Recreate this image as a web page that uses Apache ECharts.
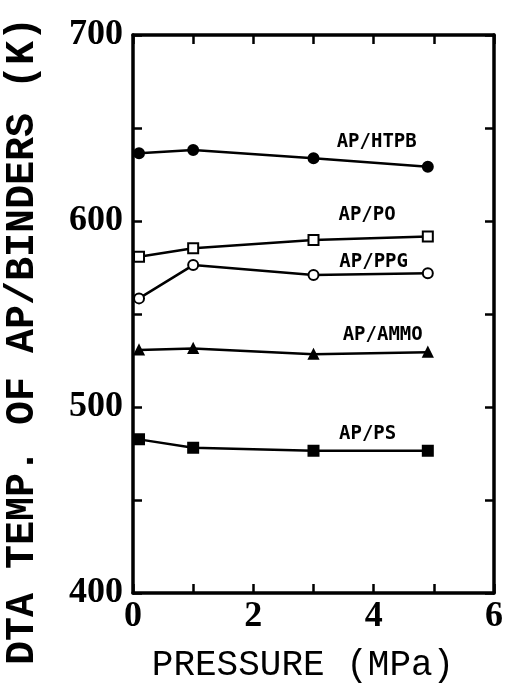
<!DOCTYPE html>
<html>
<head>
<meta charset="UTF-8">
<script src="https://cdn.jsdelivr.net/npm/echarts@6/dist/echarts.min.js"></script>
<style>
html, body { margin: 0; padding: 0; background: #fff; }
#main { width: 506px; height: 695px; }
</style>
</head>
<body>
<div id="main"></div>
<script>
// pressure (MPa) and DTA temperature (K) of each binder
var pressure = [0.1, 1, 3, 4.9];
var htpb = [636.4, 638.2, 633.7, 629.2];
var po   = [580.8, 585.3, 589.8, 591.6];
var ppg  = [558.4, 576.3, 571.0, 571.9];
var ammo = [530.6, 531.5, 528.3, 529.4];
var ps   = [482.6, 478.1, 476.5, 476.5];
var names = ['AP/HTPB', 'AP/PO', 'AP/PPG', 'AP/AMMO', 'AP/PS'];
// where the curve labels sit, in data units
var labelAt = [[4.05, 642.5], [3.89, 603.2], [4.0, 578.0], [4.15, 538.7], [3.9, 485.5]];
var xTicks = [0, 2, 4, 6];
var yTicks = [400, 500, 600, 700];

var chart = echarts.init(document.getElementById('main'));

function pairs(ys) {
    return pressure.map(function (x, i) { return [x, ys[i]]; });
}

var symbols = [
    { symbol: 'circle', size: 10, fill: '#000' },
    { symbol: 'rect', size: 10, fill: '#fff' },
    { symbol: 'circle', size: 10, fill: '#fff' },
    { symbol: 'triangle', size: 9, fill: '#000' },
    { symbol: 'rect', size: 10, fill: '#000' }
];

var allData = [htpb, po, ppg, ammo, ps];
var series = allData.map(function (ys, i) {
    return {
        name: names[i],
        type: 'line',
        data: pairs(ys),
        symbol: symbols[i].symbol,
        symbolSize: symbols[i].size,
        showAllSymbol: true,
        lineStyle: { color: '#000', width: 2.5 },
        itemStyle: { color: symbols[i].fill, borderColor: '#000', borderWidth: 2 },
        markPoint: {
            symbol: 'circle',
            symbolSize: 0,
            silent: true,
            label: {
                show: true,
                position: 'inside',
                formatter: names[i],
                color: '#000',
                fontFamily: 'DejaVu Sans Mono',
                fontWeight: 'bold',
                fontSize: 19
            },
            data: [{ coord: labelAt[i] }]
        },
        z: 3
    };
});

function tick() {
    return { show: true, inside: true, length: 9, lineStyle: { color: '#000', width: 2.5 } };
}
function axisLine() {
    return { show: true, onZero: false, lineStyle: { color: '#000', width: 3.5 } };
}
function numLabel(list, margin) {
    return {
        margin: margin,
        color: '#000', fontFamily: 'Liberation Serif', fontWeight: 'bold', fontSize: 36,
        formatter: function (v) { return list.indexOf(v) >= 0 ? v : ''; }
    };
}

var option = {
    backgroundColor: '#fff',
    animation: false,
    grid: { left: 133, right: 8, top: 35, bottom: 102 },
    xAxis: [{
        type: 'value', min: 0, max: 6, interval: 1, position: 'bottom',
        axisLine: axisLine(), axisTick: tick(), splitLine: { show: false },
        axisLabel: numLabel(xTicks, 6)
    }, {
        type: 'value', min: 0, max: 6, interval: 1, position: 'top',
        axisLine: axisLine(), axisTick: tick(), splitLine: { show: false },
        axisLabel: { show: false }
    }],
    yAxis: [{
        type: 'value', min: 400, max: 700, interval: 50, position: 'left',
        axisLine: axisLine(), axisTick: tick(), splitLine: { show: false },
        axisLabel: numLabel(yTicks, 10)
    }, {
        type: 'value', min: 400, max: 700, interval: 50, position: 'right',
        axisLine: axisLine(), axisTick: tick(), splitLine: { show: false },
        axisLabel: { show: false }
    }],
    graphic: [{
        type: 'text', x: 23, y: 341, rotation: Math.PI / 2,
        style: {
            text: 'DTA TEMP. OF AP/BINDERS (K)',
            fill: '#000', font: 'bold 40px "Liberation Mono"',
            textAlign: 'center', textVerticalAlign: 'middle'
        }
    }, {
        type: 'text', x: 303, y: 665,
        style: {
            text: 'PRESSURE (MPa)',
            fill: '#000', font: '36px "Liberation Mono"',
            textAlign: 'center', textVerticalAlign: 'middle'
        }
    }],
    series: series
};

chart.setOption(option);
</script>
</body>
</html>
